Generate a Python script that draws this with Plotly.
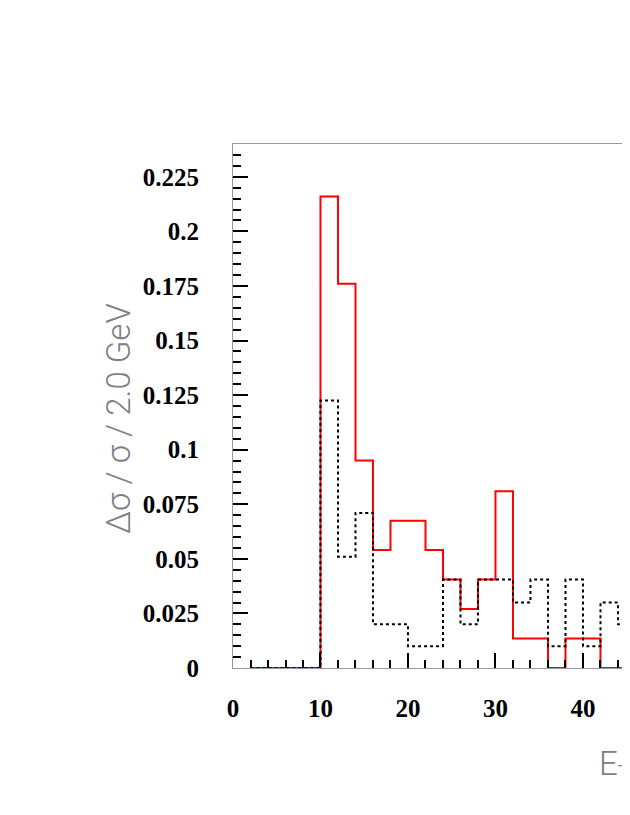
import plotly.graph_objects as go

# bin edges (2 GeV bins) starting at 2 GeV
bin_lo = [2, 4, 6, 8, 10, 12, 14, 16, 18, 20, 22, 24, 26, 28, 30, 32, 34, 36, 38, 40, 42, 44]
bin_width = 2

red_vals = [0, 0, 0, 0, 0.216, 0.176, 0.095, 0.054, 0.0675, 0.0675, 0.054, 0.0405,
            0.027, 0.0405, 0.081, 0.0135, 0.0135, 0, 0.0135, 0.0135, 0, 0]
black_vals = [0, 0, 0, 0, 0.1225, 0.051, 0.071, 0.020, 0.020, 0.010, 0.010, 0.0405,
              0.020, 0.0405, 0.0405, 0.030, 0.0405, 0.010, 0.0405, 0.010, 0.030, 0.020]

y_ticks = [0, 0.025, 0.05, 0.075, 0.1, 0.125, 0.15, 0.175, 0.2, 0.225]
y_ticktext = ["0", "0.025", "0.05", "0.075", "0.1", "0.125", "0.15", "0.175", "0.2", "0.225"]


def step(vals):
    xs = list(bin_lo) + [bin_lo[-1] + bin_width]
    ys = list(vals) + [vals[-1]]
    return xs, ys


fig = go.Figure()
rx, ry = step(red_vals)
fig.add_trace(go.Scatter(x=rx, y=ry, mode="lines", line_shape="hv",
                         line=dict(color="#ff0000", width=2), showlegend=False))
bx, by = step(black_vals)
fig.add_trace(go.Scatter(x=bx, y=by, mode="lines", line_shape="hv",
                         line=dict(color="black", width=2, dash="3px,3px"), showlegend=False))

tickfont = dict(family="Liberation Serif", size=25, color="black", weight="bold")

# page body has an 8px margin, so the figure is sized to fit inside the window
fig.update_xaxes(range=[0, 44.46], showgrid=False, zeroline=False,
                 showline=True, linecolor="#999999", linewidth=1, mirror=True,
                 ticks="inside", tickmode="linear", tick0=0, dtick=10, ticklen=15,
                 tickwidth=2, tickcolor="black", tickfont=tickfont, ticklabelstandoff=18,
                 minor=dict(ticks="inside", dtick=2, ticklen=8, tickwidth=2, tickcolor="black"))
fig.update_yaxes(range=[0, 0.24], showgrid=False, zeroline=False,
                 showline=True, linecolor="#999999", linewidth=1,
                 ticks="inside", tickvals=y_ticks, ticktext=y_ticktext, ticklen=15,
                 tickwidth=2, tickcolor="black", tickfont=tickfont, ticklabelstandoff=28,
                 minor=dict(ticks="inside", tick0=0, dtick=0.005, ticklen=8, tickwidth=2,
                            tickcolor="black"))

titlefont = dict(family="Roboto", size=33, color="#808080", weight=300)
fig.add_annotation(text="Δσ / σ / 2.0 GeV", xref="paper", yref="paper",
                   x=-0.296, y=0.477, xanchor="center", yanchor="middle",
                   textangle=-90, showarrow=False, font=titlefont)
fig.add_annotation(text="E<sub>T</sub> (GeV)", xref="paper", yref="paper",
                   x=0.9357, y=-0.187, xanchor="left", yanchor="middle",
                   showarrow=False, font=titlefont)

fig.update_layout(width=614, height=799, plot_bgcolor="white", paper_bgcolor="white",
                  margin=dict(l=225, r=0, t=136, b=139))

fig.write_html("out.html")
